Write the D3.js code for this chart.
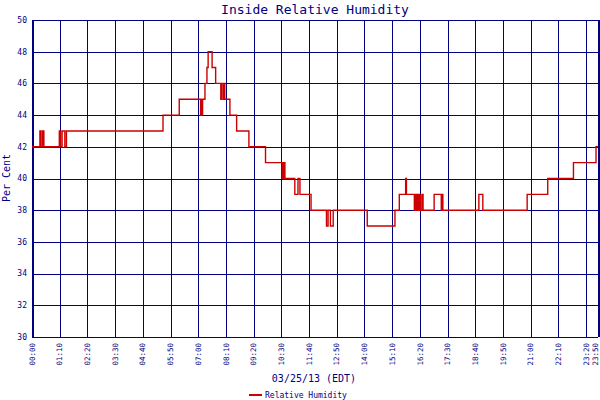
<!DOCTYPE html>
<html>
<head>
<meta charset="utf-8">
<script src="https://cdn.jsdelivr.net/npm/d3@7"></script>
<style>
	body { margin: 0; background: #fff; }
	svg { display: block; font-family: "DejaVu Sans Mono", monospace; }
</style>
</head>
<body>
<div id="chart"></div>
<script>
// readings (step changes) for 03/25/13
var times = ["00:00","00:20","00:23","00:27","00:30","01:09","01:12","01:16","01:23","01:27",
	"05:31","06:12","07:06","07:08","07:09","07:11","07:17","07:22","07:25","07:35",
	"07:44","07:57","07:59","08:03","08:05","08:07","08:20","08:37","09:08","09:50",
	"10:32","10:34","10:36","10:38","10:39","11:04","11:12","11:17","11:45","12:24",
	"12:28","12:34","12:41","14:07","15:17","15:28","15:44","15:46","16:06","16:08",
	"16:10","16:13","16:16","16:19","16:21","16:25","16:28","16:56","17:14","17:16",
	"17:18","18:49","18:59","20:51","21:43","22:48","23:45","23:50"];
var humidity = [42,43,42,43,42,43,42,43,42,43,
	44,45,44,45,44,45,46,47,48,47,
	46,45,46,45,46,45,44,43,42,41,
	40,41,40,41,40,39,40,39,38,37,
	38,37,38,37,38,39,40,39,38,39,
	38,39,38,39,38,39,38,39,38,39,
	38,39,38,39,40,41,42,42];
var xTickLabels = ["00:00","01:10","02:20","03:30","04:40","05:50","07:00","08:10","09:20","10:30",
	"11:40","12:50","14:00","15:10","16:20","17:30","18:40","19:50","21:00","22:10","23:20","23:50"];
var yTicks = [30,32,34,36,38,40,42,44,46,48,50];

var navy = '#000080';
var red = '#cc0000';

function toMin(s){
	var p = s.split(':');
	return +p[0] * 60 + +p[1];
}

var dataset = times.map(function(t, i){ return {t: toMin(t), v: humidity[i]}; });

var svg = d3.select('#chart').append('svg')
	.attr('width', 600)
	.attr('height', 400);

var plot = {left: 32, right: 598, top: 20, bottom: 337};

var x = d3.scaleLinear()
	.domain([0, toMin('23:50')])
	.range([plot.left, plot.right]);
var y = d3.scaleLinear()
	.domain([30, 50])
	.range([plot.bottom, plot.top]);

// grid
svg.append('g').selectAll('line.h')
	.data(yTicks).enter().append('line')
	.attr('x1', plot.left).attr('x2', plot.right)
	.attr('y1', function(d){ return y(d) + 0.5; })
	.attr('y2', function(d){ return y(d) + 0.5; })
	.attr('stroke', navy).attr('stroke-width', 1)
	.attr('shape-rendering', 'crispEdges');

svg.append('g').selectAll('line.v')
	.data(xTickLabels).enter().append('line')
	.attr('x1', function(d){ return Math.round(x(toMin(d))) + 0.5; })
	.attr('x2', function(d){ return Math.round(x(toMin(d))) + 0.5; })
	.attr('y1', plot.top).attr('y2', plot.bottom)
	.attr('stroke', navy)
	.attr('stroke-width', function(d, i){ return (i === 0 || i === xTickLabels.length - 1) ? 2 : 1; })
	.attr('shape-rendering', 'crispEdges');

// data line
var line = d3.line()
	.x(function(d){ return x(d.t); })
	.y(function(d){ return y(d.v); })
	.curve(d3.curveStepAfter);

svg.append('path')
	.datum(dataset)
	.attr('d', line)
	.attr('fill', 'none')
	.attr('stroke', red)
	.attr('stroke-width', 1.4);

// y labels
svg.append('g').selectAll('text')
	.data(yTicks).enter().append('text')
	.attr('x', 27)
	.attr('y', function(d){ return y(d); })
	.attr('dy', '0.35em')
	.attr('text-anchor', 'end')
	.attr('font-size', '8px')
	.attr('fill', navy)
	.text(function(d){ return d; });

// x labels (last one nudged in so it stays on the page)
svg.append('g').selectAll('text')
	.data(xTickLabels).enter().append('text')
	.attr('transform', function(d, i){
		var px = Math.min(x(toMin(d)), 595.5);
		return 'translate(' + px + ',' + (plot.bottom + 6) + ') rotate(-90)';
	})
	.attr('dy', '0.35em')
	.attr('text-anchor', 'end')
	.attr('font-size', '7.5px')
	.attr('fill', navy)
	.text(function(d){ return d; });

// titles
svg.append('text')
	.attr('x', 315).attr('y', 14)
	.attr('text-anchor', 'middle')
	.attr('font-size', '13px')
	.attr('fill', navy)
	.text('Inside Relative Humidity');

svg.append('text')
	.attr('transform', 'translate(10,178) rotate(-90)')
	.attr('text-anchor', 'middle')
	.attr('font-size', '10px')
	.attr('fill', navy)
	.text('Per Cent');

svg.append('text')
	.attr('x', 314).attr('y', 382)
	.attr('text-anchor', 'middle')
	.attr('font-size', '10px')
	.attr('fill', navy)
	.text('03/25/13 (EDT)');

// legend
svg.append('line')
	.attr('x1', 249).attr('x2', 262)
	.attr('y1', 395).attr('y2', 395)
	.attr('stroke', red).attr('stroke-width', 2);

svg.append('text')
	.attr('x', 265).attr('y', 398)
	.attr('font-size', '8px')
	.attr('fill', navy)
	.text('Relative Humidity');
</script>
</body>
</html>
